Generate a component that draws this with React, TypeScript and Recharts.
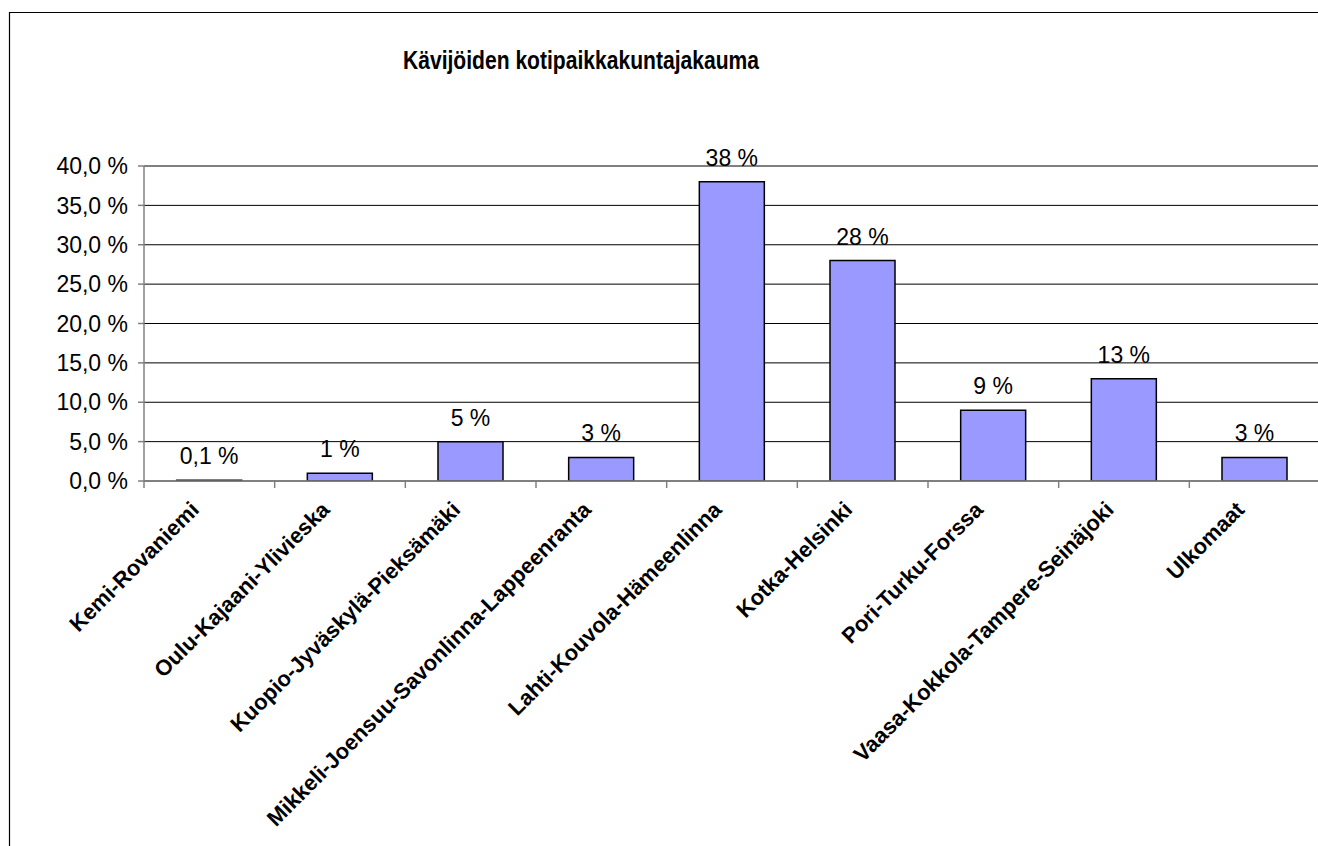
import React from 'react';
import { BarChart, Bar, XAxis, YAxis, CartesianGrid, LabelList } from 'recharts';

const title = 'Kävijöiden kotipaikkakuntajakauma';
const categories = [
  'Kemi-Rovaniemi',
  'Oulu-Kajaani-Ylivieska',
  'Kuopio-Jyväskylä-Pieksämäki',
  'Mikkeli-Joensuu-Savonlinna-Lappeenranta',
  'Lahti-Kouvola-Hämeenlinna',
  'Kotka-Helsinki',
  'Pori-Turku-Forssa',
  'Vaasa-Kokkola-Tampere-Seinäjoki',
  'Ulkomaat',
];
const values = [0.1, 1, 5, 3, 38, 28, 9, 13, 3];
const yTicks = [0, 5, 10, 15, 20, 25, 30, 35, 40];

const data = categories.map((name, i) => ({ name, value: values[i] }));

const FONT = '"Liberation Sans", Arial, sans-serif';
const AXIS = '#808080';

const fmtY = (v: number) => v.toFixed(1).replace('.', ',') + ' %';
const fmtLabel = (v: number) => String(v).replace('.', ',') + ' %';

const XTick = (props: any) => {
  const { x, y, payload } = props;
  const half = payload && payload.offset ? payload.offset : 0;
  return (
    <g>
      <line x1={x - half} y1={y} x2={x - half} y2={y + 7} stroke={AXIS} strokeWidth={1.5} />
      <g transform={`translate(${x - 9},${y + 30})`}>
        <text
          transform="rotate(-45)"
          textAnchor="end"
          fontFamily={FONT}
          fontWeight="bold"
          fontSize={22}
          fill="#000"
        >
          {payload.value}
        </text>
      </g>
    </g>
  );
};

const BarLabel = (props: any) => {
  const { x, y, width, value } = props;
  return (
    <text
      x={x + width / 2}
      y={y - 16}
      textAnchor="middle"
      fontFamily={FONT}
      fontSize={23}
      fill="#000"
    >
      {fmtLabel(value)}
    </text>
  );
};

export default function App() {
  return (
    <div style={{ position: 'fixed', left: 0, top: 0, width: 1318, height: 846, overflow: 'hidden', background: '#fff' }}>
      <div style={{ position: 'absolute', left: 0, top: 0, width: 1318, height: 846, overflow: 'hidden' }}>
        <BarChart
          width={1320}
          height={846}
          data={data}
          margin={{ top: 166, right: 0, left: 54, bottom: 165 }}
          barCategoryGap="25%"
          accessibilityLayer={false}
        >
          <CartesianGrid vertical={false} stroke="#000" strokeWidth={1} />
          <XAxis
            dataKey="name"
            interval={0}
            tick={<XTick />}
            tickLine={false}
            tickSize={0}
            tickMargin={0}
            axisLine={{ stroke: AXIS, strokeWidth: 1.5 }}
            height={200}
          />
          <YAxis
            width={90}
            domain={[0, 40]}
            ticks={yTicks}
            tickFormatter={fmtY}
            tickSize={6}
            tickMargin={10}
            axisLine={{ stroke: AXIS, strokeWidth: 1.5 }}
            tickLine={{ stroke: AXIS, strokeWidth: 1.5 }}
            tick={{ fontFamily: FONT, fontSize: 23, fill: '#000' }}
            allowDataOverflow
          />
          <Bar
            dataKey="value"
            fill="#9999FF"
            stroke="#000"
            strokeWidth={1.5}
            isAnimationActive={false}
          >
            <LabelList dataKey="value" content={<BarLabel />} />
          </Bar>
        </BarChart>
      </div>
      <svg style={{ position: 'absolute', left: 0, top: 0 }} width={1318} height={846}>
        <path d="M 9.5 846 V 12.5 H 1318" fill="none" stroke="#000" strokeWidth={1.2} />
        <text
          x={581}
          y={69}
          textAnchor="middle"
          fontFamily={FONT}
          fontWeight="bold"
          fontSize={26}
          textLength={356}
          lengthAdjust="spacingAndGlyphs"
          fill="#000"
        >
          {title}
        </text>
      </svg>
    </div>
  );
}
